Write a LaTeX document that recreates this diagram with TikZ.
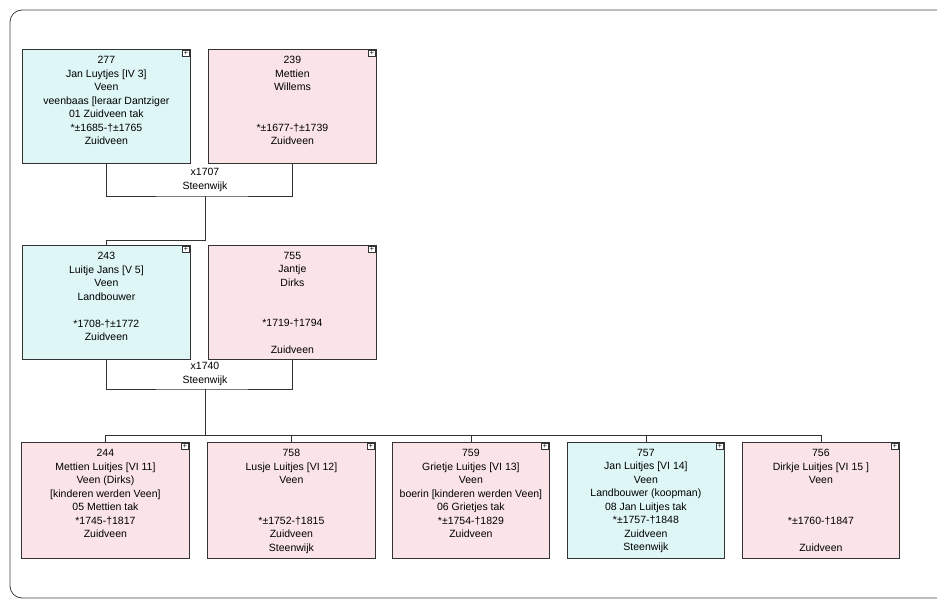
\documentclass[tikz,border=0pt]{standalone}
\usepackage{fontspec}
\setmainfont{Liberation Sans}
\definecolor{manfill}{RGB}{223,246,247}
\definecolor{womanfill}{RGB}{250,228,231}
\begin{document}
\begin{tikzpicture}[x=1pt,y=-1pt,
  box/.style={draw=black!80, line width=0.8pt, anchor=north west, inner sep=0pt},
  man/.style={box, fill=manfill},
  woman/.style={box, fill=womanfill},
  txt/.style={anchor=north, align=center, inner sep=0pt, font=\fontsize{10.5}{13.5}\selectfont},
  plus/.style={draw=black!80, line width=0.6pt, fill=white, minimum size=6.5pt, inner sep=0pt, font=\fontsize{7}{7}\selectfont},
  link/.style={draw=black!80, line width=0.8pt}]
\useasboundingbox (0,0) rectangle (937,601);
\draw[black!75, line width=0.8pt, rounded corners=12pt] (937,10) -- (10,10) -- (10,598) -- (937,598);
% generation IV
\node[man, minimum width=168pt, minimum height=114pt] (p277) at (22,49) {};
\node[woman, minimum width=168pt, minimum height=114pt] (p239) at (208,49) {};
\node[txt] (t277) at ([yshift=-7pt]p277.north) {277\\Jan Luytjes [IV 3]\\Veen\\veenbaas [leraar Dantziger\\01 Zuidveen tak\\*±1685-†±1765\\Zuidveen};
\node[txt] (t239) at ([yshift=-7pt]p239.north) {239\\Mettien\\Willems\\ \\ \\*±1677-†±1739\\Zuidveen};
\node[txt] (m1) at (205,168) {x1707\\Steenwijk};
\coordinate (c1) at (205,196);
\coordinate (d1) at (205,240);
% generation V
\node[man, minimum width=168pt, minimum height=114pt] (p243) at (22,245) {};
\node[woman, minimum width=168pt, minimum height=114pt] (p755) at (208,245) {};
\node[txt] (t243) at ([yshift=-7pt]p243.north) {243\\Luitje Jans [V 5]\\Veen\\Landbouwer\\ \\*1708-†±1772\\Zuidveen};
\node[txt] (t755) at ([yshift=-7pt]p755.north) {755\\Jantje\\Dirks\\ \\ \\*1719-†1794\\ \\Zuidveen};
\node[txt] (m2) at (205,362) {x1740\\Steenwijk};
\coordinate (c2) at (205,389);
\coordinate (d2) at (205,435);
% generation VI
\node[woman, minimum width=168pt, minimum height=116pt] (p244) at (21,442) {};
\node[woman, minimum width=168pt, minimum height=116pt] (p758) at (207,442) {};
\node[woman, minimum width=157pt, minimum height=116pt] (p759) at (392,442) {};
\node[man, minimum width=157pt, minimum height=116pt] (p757) at (567,442) {};
\node[woman, minimum width=157pt, minimum height=116pt] (p756) at (742,442) {};
\node[txt] (t244) at ([yshift=-7pt]p244.north) {244\\Mettien Luitjes [VI 11]\\Veen (Dirks)\\{}[kinderen werden Veen]\\05 Mettien tak\\*1745-†1817\\Zuidveen};
\node[txt] (t758) at ([yshift=-7pt]p758.north) {758\\Lusje Luitjes [VI 12]\\Veen\\ \\ \\*±1752-†1815\\Zuidveen\\Steenwijk};
\node[txt] (t759) at ([yshift=-7pt]p759.north) {759\\Grietje Luitjes [VI 13]\\Veen\\boerin [kinderen werden Veen]\\06 Grietjes tak\\*±1754-†1829\\Zuidveen};
\node[txt] (t757) at ([yshift=-7pt]p757.north) {757\\Jan Luitjes [VI 14]\\Veen\\Landbouwer (koopman)\\08 Jan Luitjes tak\\*±1757-†1848\\Zuidveen\\Steenwijk};
\node[txt] (t756) at ([yshift=-7pt]p756.north) {756\\Dirkje Luitjes [VI 15 ]\\Veen\\ \\ \\*±1760-†1847\\ \\Zuidveen};
% expand buttons
\foreach \p in {p277,p239,p243,p755,p244,p758,p759,p757,p756} {
\node[plus] (k\p) at ([xshift=-5pt,yshift=-4.5pt]\p.north east) {+};
}
% marriages and children
\draw[link] (p277.south) |- (c1) -| (p239.south);
\draw[link] (c1) -- (d1) -| (p243.north);
\draw[link] (p243.south) |- (c2) -| (p755.south);
\draw[link] (c2) -- (d2);
\foreach \p in {p244,p758,p759,p757,p756} {
\draw[link] (d2) -| (\p.north);
}
\end{tikzpicture}
\end{document}
